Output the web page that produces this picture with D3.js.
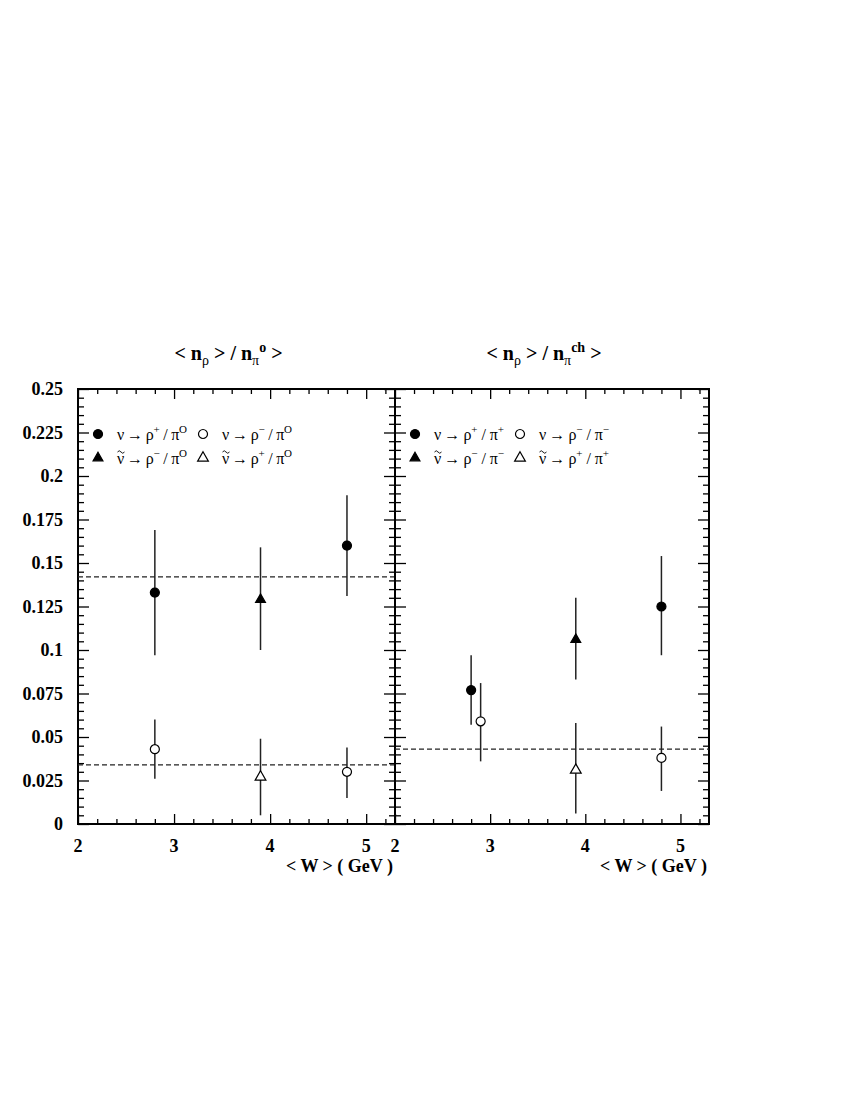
<!DOCTYPE html>
<html>
<head>
<meta charset="utf-8">
<script src="https://cdn.jsdelivr.net/npm/d3@7"></script>
<style>
  body { margin: 0; background: #fff; }
</style>
</head>
<body>
<div id="chart"></div>
<script>
// data: [W, value, low, high]
var pi0_nuRhoPlus     = [[2.8, 0.133, 0.097, 0.169], [4.8, 0.160, 0.131, 0.189]];
var pi0_nubarRhoMinus = [[3.9, 0.129, 0.100, 0.159]];
var pi0_nuRhoMinus    = [[2.8, 0.043, 0.026, 0.060], [4.8, 0.030, 0.015, 0.044]];
var pi0_nubarRhoPlus  = [[3.9, 0.027, 0.005, 0.049]];
var pi0_means = [0.142, 0.034];

var pich_nuRhoPlus     = [[2.8, 0.077, 0.057, 0.097], [4.8, 0.125, 0.097, 0.154]];
var pich_nubarRhoMinus = [[3.9, 0.106, 0.083, 0.130]];
var pich_nuRhoMinus    = [[2.9, 0.059, 0.036, 0.081], [4.8, 0.038, 0.019, 0.056]];
var pich_nubarRhoPlus  = [[3.9, 0.031, 0.006, 0.058]];
var pich_means = [0.043];

var xMajor = [2, 3, 4, 5];
var xMinor = [2.2, 2.4, 2.6, 2.8, 3.2, 3.4, 3.6, 3.8, 4.2, 4.4, 4.6, 4.8, 5.2];
var yMajor = [0, 0.025, 0.05, 0.075, 0.1, 0.125, 0.15, 0.175, 0.2, 0.225, 0.25];
var yLabels = ["0", "0.025", "0.05", "0.075", "0.1", "0.125", "0.15", "0.175", "0.2", "0.225", "0.25"];
var yMinor = d3.range(0, 51).map(function (i) { return i * 0.005; })
  .filter(function (v) { return Math.abs(v / 0.025 - Math.round(v / 0.025)) > 1e-6; });

var FONT = "'Liberation Serif', 'Times New Roman', Times, serif";

var svg = d3.select("#chart").append("svg")
  .attr("width", 850).attr("height", 1100)
  .attr("font-family", FONT);

var y = d3.scaleLinear().domain([0, 0.25]).range([824, 389]);

var panels = [
  { x: d3.scaleLinear().domain([2, 5.3]).range([78, 395]), yLabels: true,
    title: "o", series: [pi0_nuRhoPlus, pi0_nubarRhoMinus, pi0_nuRhoMinus, pi0_nubarRhoPlus],
    means: pi0_means,
    legend: [[false, "+", "O"], [true, "−", "O"], [false, "−", "O"], [true, "+", "O"]] },
  { x: d3.scaleLinear().domain([2, 5.3]).range([395, 709]), yLabels: false,
    title: "ch", series: [pich_nuRhoPlus, pich_nubarRhoMinus, pich_nuRhoMinus, pich_nubarRhoPlus],
    means: pich_means,
    legend: [[false, "+", "+"], [true, "−", "−"], [false, "−", "−"], [true, "+", "+"]] }
];

var markers = [
  { type: d3.symbolCircle, size: 64, fill: "#000" },
  { type: d3.symbolTriangle, size: 42, fill: "#000" },
  { type: d3.symbolCircle, size: 64, fill: "#fff" },
  { type: d3.symbolTriangle, size: 50, fill: "#fff" }
];

panels.forEach(function (p) {
  var x = p.x;
  var x0 = x.range()[0], x1 = x.range()[1];
  var g = svg.append("g");

  // ticks (all inward)
  function axes(vals, len) {
    g.append("g").attr("transform", "translate(0,824)")
      .call(d3.axisBottom(x).tickValues(vals).tickSize(-len).tickFormat("").tickSizeOuter(0));
    g.append("g").attr("transform", "translate(0,389)")
      .call(d3.axisTop(x).tickValues(vals).tickSize(-len).tickFormat("").tickSizeOuter(0));
  }
  axes(xMajor, 10);
  axes(xMinor, 5);
  function yaxes(vals, len) {
    g.append("g").attr("transform", "translate(" + x0 + ",0)")
      .call(d3.axisLeft(y).tickValues(vals).tickSize(-len).tickFormat("").tickSizeOuter(0));
    g.append("g").attr("transform", "translate(" + x1 + ",0)")
      .call(d3.axisRight(y).tickValues(vals).tickSize(-len).tickFormat("").tickSizeOuter(0));
  }
  yaxes(yMajor, 11);
  yaxes(yMinor, 6);
  g.selectAll(".domain").remove();
  g.selectAll(".tick line").attr("stroke", "#000").attr("stroke-width", 1.3);

  // frame
  g.append("rect").attr("x", x0).attr("y", 389).attr("width", x1 - x0).attr("height", 435)
    .attr("fill", "none").attr("stroke", "#000").attr("stroke-width", 2);

  // x labels
  g.selectAll(".xl").data(xMajor).enter().append("text")
    .attr("x", function (d) { return x(d); }).attr("y", 852)
    .attr("text-anchor", "middle").attr("font-size", 18).attr("font-weight", "bold")
    .text(function (d) { return d; });
  g.append("text").attr("x", x1 - 2).attr("y", 872).attr("text-anchor", "end")
    .attr("font-size", 18).attr("font-weight", "bold").text("< W > ( GeV )");

  if (p.yLabels) {
    g.selectAll(".yl").data(yMajor).enter().append("text")
      .attr("x", 63).attr("y", function (d) { return y(d) + 6; })
      .attr("text-anchor", "end").attr("font-size", 18).attr("font-weight", "bold")
      .text(function (d, i) { return yLabels[i]; });
  }

  // title
  var t = g.append("text").attr("x", (x0 + x1) / 2 - 8).attr("y", 360)
    .attr("text-anchor", "middle").attr("font-size", 20).attr("font-weight", "bold");
  t.append("tspan").text("< n");
  t.append("tspan").attr("font-size", 14).attr("font-weight", "normal").attr("dy", 5).text("ρ");
  t.append("tspan").attr("dy", -5).text(" > / n");
  t.append("tspan").attr("font-size", 14).attr("font-weight", "normal").attr("dy", 5).text("π");
  t.append("tspan").attr("font-size", 14).attr("dy", -13).text(p.title);
  t.append("tspan").attr("dy", 8).text(" >");

  // mean lines
  g.selectAll(".mean").data(p.means).enter().append("line")
    .attr("x1", x0).attr("x2", x1)
    .attr("y1", function (d) { return y(d); }).attr("y2", function (d) { return y(d); })
    .attr("stroke", "#222").attr("stroke-width", 1.2).attr("stroke-dasharray", "5,3");

  // points with error bars
  p.series.forEach(function (s, i) {
    var m = markers[i];
    g.selectAll(".err" + i).data(s).enter().append("line")
      .attr("x1", function (d) { return x(d[0]); }).attr("x2", function (d) { return x(d[0]); })
      .attr("y1", function (d) { return y(d[2]); }).attr("y2", function (d) { return y(d[3]); })
      .attr("stroke", "#222").attr("stroke-width", 1.5);
    g.selectAll(".pt" + i).data(s).enter().append("path")
      .attr("d", d3.symbol().type(m.type).size(m.size))
      .attr("transform", function (d) { return "translate(" + x(d[0]) + "," + y(d[1]) + ")"; })
      .attr("fill", m.fill).attr("stroke", "#000").attr("stroke-width", 1.2);
  });

  // legend
  var legPos = [[0, 0], [0, 1], [1, 0], [1, 1]];
  p.legend.forEach(function (l, i) {
    var lx = x0 + 20 + legPos[i][0] * 105, ly = 434 + legPos[i][1] * 24;
    var m = markers[i];
    g.append("path").attr("d", d3.symbol().type(m.type).size(m.size))
      .attr("transform", "translate(" + lx + "," + ly + ")")
      .attr("fill", m.fill).attr("stroke", "#000").attr("stroke-width", 1.2);
    var tx = g.append("text").attr("x", lx + 19).attr("y", ly + 6).attr("font-size", 16)
      .attr("textLength", 70).attr("lengthAdjust", "spacing");
    tx.append("tspan").text("ν\u2009→\u2009ρ");
    tx.append("tspan").attr("font-size", 11).attr("dy", -7).text(l[1]);
    tx.append("tspan").attr("dy", 7).text(" / π");
    tx.append("tspan").attr("font-size", 11).attr("dy", -7).text(l[2]);
    if (l[0]) {
      // tilde over the nu, drawn as a small wave
      var tX = lx + 23, tY = ly - 7;
      g.append("path")
        .attr("d", "M" + (tX - 3.5) + "," + (tY + 1) + " q1.75,-2.5 3.5,0 t3.5,0")
        .attr("fill", "none").attr("stroke", "#000").attr("stroke-width", 0.9);
    }
  });
});
</script>
</body>
</html>
